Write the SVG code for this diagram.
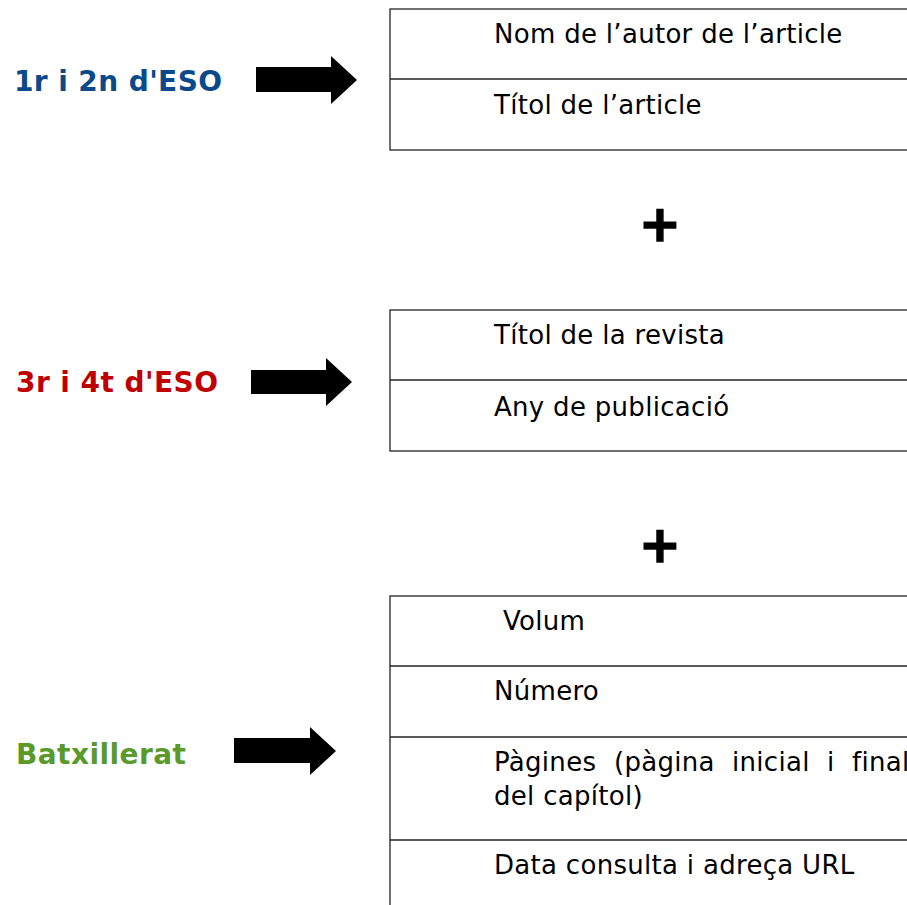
<svg xmlns="http://www.w3.org/2000/svg" width="907" height="905" viewBox="0 0 907 905">
<style>
.lbl{font-family:"DejaVu Sans","Liberation Sans",sans-serif;font-weight:bold;font-size:28px}
.cell{font-family:"DejaVu Sans","Liberation Sans",sans-serif;font-size:26px;letter-spacing:0.3px;fill:#000}
.box{fill:#fff;stroke:#222;stroke-width:1.3}
.div{stroke:#222;stroke-width:1.3}
.plus{font-family:"DejaVu Sans","Liberation Sans",sans-serif;font-weight:bold;font-size:50px;fill:#000;stroke:#000;stroke-width:1.6;text-anchor:middle}
.arrow{fill:#000}
</style>
<rect width="907" height="905" fill="#fff"/>
<g id="label-eso12"><text class="lbl" x="14" y="91" fill="#0b4a8a" textLength="208">1r i 2n d'ESO</text></g>
<g id="label-eso34"><text class="lbl" x="16" y="392" fill="#c00000" textLength="202">3r i 4t d'ESO</text></g>
<g id="label-batx"><text class="lbl" x="16" y="764" fill="#5a9a2a" textLength="170">Batxillerat</text></g>
<g id="connectors">
<polygon class="arrow" points="256,67 331,67 331,56 357,80 331,104 331,92 256,92"/>
<polygon class="arrow" points="251,370 326,370 326,358 352,382 326,406 326,394 251,394"/>
<polygon class="arrow" points="234,738 310,738 310,727 336,751 310,775 310,763 234,763"/>
</g>
<g id="box1">
<rect class="box" x="390" y="9" width="530" height="141"/>
<line class="div" x1="390" y1="79" x2="907" y2="79"/>
<text class="cell" x="494" y="43">Nom de l’autor de l’article</text>
<text class="cell" x="494" y="114">Títol de l’article</text>
</g>
<g id="plus1"><text class="plus" x="660" y="241">+</text></g>
<g id="box2">
<rect class="box" x="390" y="310" width="530" height="141"/>
<line class="div" x1="390" y1="380" x2="907" y2="380"/>
<text class="cell" x="494" y="344">Títol de la revista</text>
<text class="cell" x="494" y="416">Any de publicació</text>
</g>
<g id="plus2"><text class="plus" x="660" y="562">+</text></g>
<g id="box3">
<rect class="box" x="390" y="596" width="530" height="330"/>
<line class="div" x1="390" y1="666" x2="907" y2="666"/>
<line class="div" x1="390" y1="737" x2="907" y2="737"/>
<line class="div" x1="390" y1="840" x2="907" y2="840"/>
<text class="cell" x="503" y="630">Volum</text>
<text class="cell" x="494" y="700">Número</text>
<text class="cell" y="771"><tspan x="494">Pàgines</tspan><tspan x="614">(pàgina</tspan><tspan x="732">inicial</tspan><tspan x="827">i</tspan><tspan x="852">final</tspan></text>
<text class="cell" x="494" y="805">del capítol)</text>
<text class="cell" x="494" y="874">Data consulta i adreça URL</text>
</g>
</svg>
